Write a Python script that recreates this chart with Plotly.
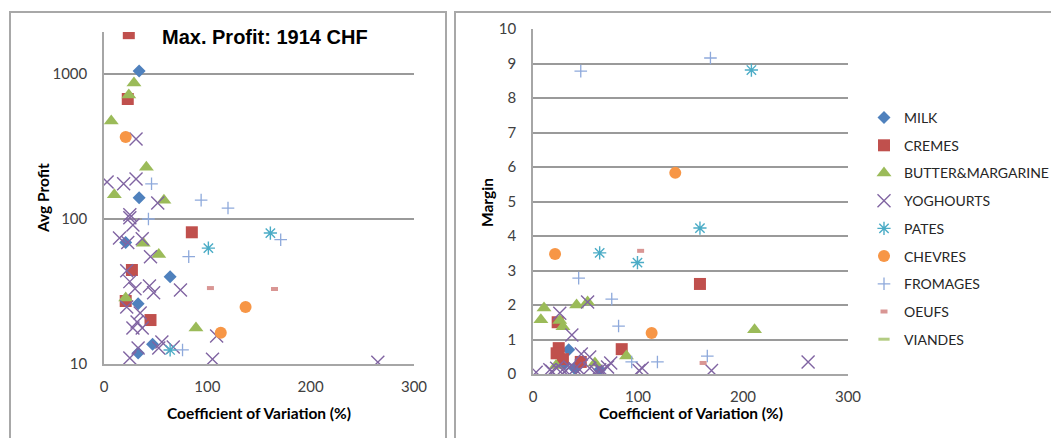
import plotly.graph_objects as go

W, H = 1051, 438

# ---------------- data ----------------
series = ["MILK", "CREMES", "BUTTER&MARGARINE", "YOGHOURTS", "PATES",
          "CHEVRES", "FROMAGES", "OEUFS", "VIANDES"]

# Left panel: coefficient of variation (%) vs average profit
milk_cv_l = [34, 34, 21, 64, 33, 47, 33]
milk_profit = [1050, 140, 69, 40, 26, 13.7, 11.9]
cremes_cv_l = [24, 23, 85, 27, 21, 45]
cremes_profit = [1914, 673, 81, 44.5, 27.2, 20.1]
butter_cv_l = [29, 24, 7, 41, 10, 58, 38, 53, 21, 89]
butter_profit = [867, 716, 474, 228, 147, 135, 68, 57, 28.5, 17.7]
yog_cv_l = [31, 3, 19, 31, 52, 25, 25, 28, 15, 23, 37, 45, 22, 25, 30, 44, 48,
            74, 22, 35, 28, 37, 32, 109, 56, 53, 67, 33, 25, 105, 265]
yog_profit = [356, 180, 175, 189, 129, 107, 102, 91, 74, 69, 73, 55, 44, 37, 33,
              34.5, 31, 32.4, 24.7, 22.5, 17.7, 17.7, 19.5, 15.6, 14.2, 12.9,
              13.1, 12.9, 11, 10.8, 10.3]
pates_cv_l = [161, 101, 64]
pates_profit = [80, 63, 12.5]
chevres_cv_l = [21, 137, 113]
chevres_profit = [368, 24.7, 16.4]
fromages_cv_l = [46, 94, 120, 43, 171, 82, 76]
fromages_profit = [175, 135, 119, 100, 72, 55, 12.5]
oeufs_cv_l = [103, 165]
oeufs_profit = [33.4, 32.9]
viandes_cv_l = [None]
viandes_profit = [None]

# Right panel: coefficient of variation (%) vs margin
milk_cv_r = [34, 63.5, 30, 40]
milk_margin = [0.7, 0.12, 0.3, 0.15]
cremes_cv_r = [159, 23.5, 24.5, 22.5, 84.5, 45.5, 28.5]
cremes_margin = [2.61, 1.5, 0.75, 0.6, 0.72, 0.35, 0.43]
butter_cv_r = [52, 41.5, 10.5, 7.5, 25.5, 28.5, 211, 89, 59, 22]
butter_margin = [2.09, 2.0, 1.91, 1.57, 1.55, 1.37, 1.28, 0.52, 0.32, 0.25]
yog_cv_r = [25.5, 52, 37, 46, 54, 74, 3, 16, 22.5, 28, 35, 44.5, 54, 63.5, 71,
            104, 101, 170, 262, 18, 31, 40, 60, 66]
yog_margin = [1.76, 2.09, 1.13, 0.58, 0.49, 0.32, 0.05, 0.12, 0.17, 0.12, 0.2,
              0.12, 0.17, 0.12, 0.2, 0.17, 0.1, 0.1, 0.35, 0.08, 0.1, 0.15,
              0.08, 0.1]
pates_cv_r = [208, 159, 63.5, 99.5]
pates_margin = [8.81, 4.23, 3.51, 3.23]
chevres_cv_r = [135.5, 21, 113]
chevres_margin = [5.83, 3.48, 1.19]
fromages_cv_r = [45.5, 169, 43.5, 75, 81.5, 166, 94, 118.5]
fromages_margin = [8.78, 9.16, 2.78, 2.17, 1.39, 0.52, 0.35, 0.35]
oeufs_cv_r = [102.5, 162]
oeufs_margin = [3.57, 0.32]
viandes_cv_r = [None]
viandes_margin = [None]

left_x = [milk_cv_l, cremes_cv_l, butter_cv_l, yog_cv_l, pates_cv_l,
          chevres_cv_l, fromages_cv_l, oeufs_cv_l, viandes_cv_l]
left_y = [milk_profit, cremes_profit, butter_profit, yog_profit, pates_profit,
          chevres_profit, fromages_profit, oeufs_profit, viandes_profit]
right_x = [milk_cv_r, cremes_cv_r, butter_cv_r, yog_cv_r, pates_cv_r,
           chevres_cv_r, fromages_cv_r, oeufs_cv_r, viandes_cv_r]
right_y = [milk_margin, cremes_margin, butter_margin, yog_margin, pates_margin,
           chevres_margin, fromages_margin, oeufs_margin, viandes_margin]

# ---------------- styles ----------------
colors = ["#4F81BD", "#C0504D", "#9BBB59", "#8064A2", "#4BACC6",
          "#F79646", "#8EA9DB", "#D99694", "#B3CC82"]
symbols = ["diamond", "square", "triangle-up", "x-thin-open", "asterisk-open",
           "circle", "cross-thin-open", "line-ew-open", "line-ew-open"]
sizes = [10, 12, 13, 13, 11, 12, 9, 5, 8]
lwidths = [0, 0, 0, 1.4, 1.4, 0, 1.3, 4, 3]

fig = go.Figure()


def marker(i):
    return dict(symbol=symbols[i], size=sizes[i], color=colors[i],
                line=dict(color=colors[i], width=lwidths[i]))


for i, name in enumerate(series):
    fig.add_trace(go.Scatter(x=left_x[i], y=left_y[i], mode="markers",
                             name=name, legendgroup=name, showlegend=False,
                             marker=marker(i), xaxis="x", yaxis="y"))
for i, name in enumerate(series):
    fig.add_trace(go.Scatter(x=right_x[i], y=right_y[i], mode="markers",
                             name=name, legendgroup=name, showlegend=True,
                             marker=marker(i), xaxis="x2", yaxis="y2"))


def px(v):
    return v / W


def py(v):
    return (H - v) / H


grid_c = "#9a9a9a"
line_c = "#a6a6a6"
tick_font = dict(family="Lato", size=15, color="#404040")

fig.update_layout(
    width=W, height=H,
    margin=dict(l=0, r=0, t=0, b=0, autoexpand=False),
    paper_bgcolor="white", plot_bgcolor="white",
    showlegend=True,
    xaxis=dict(domain=[px(104), px(414)], range=[0, 300], tickvals=[0, 100, 200, 300],
               showgrid=False, zeroline=False, showline=True, linecolor=line_c,
               linewidth=1.5, ticks="", tickfont=tick_font, ticklabelstandoff=8,
               anchor="y", automargin=False),
    yaxis=dict(domain=[py(364), py(32)], type="log", range=[1, 3.29],
               tickvals=[10, 100, 1000], showgrid=True, gridcolor=grid_c,
               gridwidth=1.5, zeroline=False, showline=True, linecolor=line_c,
               linewidth=1.5, ticks="", tickfont=tick_font, ticklabelstandoff=12,
               anchor="x", automargin=False),
    xaxis2=dict(domain=[px(533), px(848)], range=[0, 300], tickvals=[0, 100, 200, 300],
                showgrid=False, zeroline=False, showline=True, linecolor=line_c,
                linewidth=1.5, ticks="", tickfont=tick_font, ticklabelstandoff=8,
                anchor="y2", automargin=False),
    yaxis2=dict(domain=[py(374), py(29)], range=[0, 10], dtick=1,
                showgrid=True, gridcolor=grid_c, gridwidth=1.5, zeroline=False,
                showline=True, linecolor=line_c, linewidth=1.5, ticks="",
                tickfont=tick_font, ticklabelstandoff=12, anchor="x2",
                automargin=False),
    legend=dict(x=px(864), y=py(102), xanchor="left", yanchor="top",
                font=dict(family="Lato", size=14, color="#262626"),
                tracegroupgap=6.5, itemwidth=30, bgcolor="rgba(0,0,0,0)"),
)

# panel borders
fig.add_shape(type="rect", xref="paper", yref="paper",
              x0=px(10), x1=px(446), y0=py(460), y1=py(12),
              line=dict(color="#a8a8a8", width=2), layer="below")
fig.add_shape(type="rect", xref="paper", yref="paper",
              x0=px(455), x1=px(1070), y0=py(460), y1=py(12),
              line=dict(color="#a8a8a8", width=2), layer="below")

ann_font = dict(family="Lato", size=15.5, color="#000000")


def label(text, x, y, font, angle=0):
    fig.add_annotation(text=text, xref="paper", yref="paper", x=px(x), y=py(y),
                       xanchor="center", yanchor="middle", showarrow=False,
                       textangle=angle, font=font)


label("<b>Max. Profit: 1914 CHF</b>", 265, 37,
      dict(family="Liberation Sans", size=20, color="#000000"))
label("<b>Avg Profit</b>", 43, 198, ann_font, -90)
label("<b>Margin</b>", 487, 203, ann_font, -90)
label("<b>Coefficient of Variation (%)</b>", 259, 413, ann_font)
label("<b>Coefficient of Variation (%)</b>", 691, 413, ann_font)

fig.write_html("out.html")
